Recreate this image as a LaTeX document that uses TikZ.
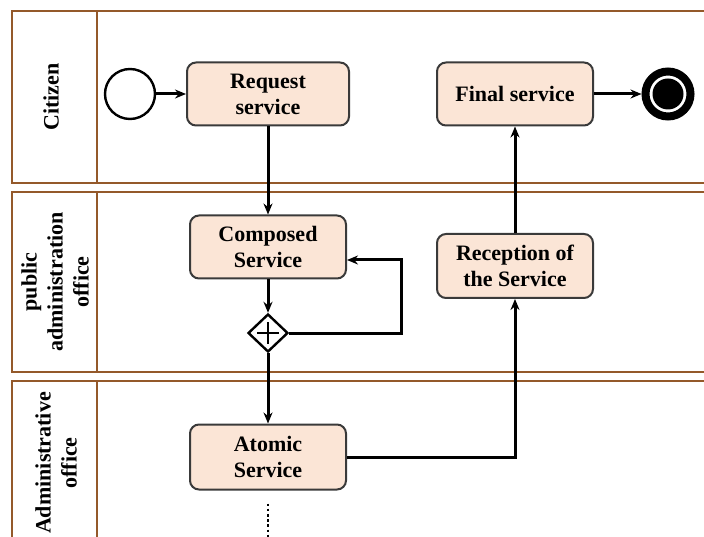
\documentclass[tikz,border=0pt]{standalone}
\usepackage{fontspec}
\setmainfont{Liberation Serif}
\usepackage{tikz}
\usetikzlibrary{arrows.meta, shapes.geometric, positioning}
\definecolor{lanebrown}{HTML}{94592A}
\definecolor{taskfill}{HTML}{FBE5D6}
\definecolor{taskline}{HTML}{3A3A3A}
\tikzset{>={Stealth[length=11pt,width=9pt]}}
\tikzset{
  lane/.style={draw=lanebrown, line width=2.8pt},
  lanelabel/.style={rotate=90, align=center, font=\fontsize{22}{26}\selectfont\bfseries},
  task/.style={draw=taskline, fill=taskfill, line width=2pt, rounded corners=9pt,
    minimum width=156pt, minimum height=63pt, align=center,
    font=\fontsize{22}{26}\selectfont\bfseries},
  flow/.style={->, line width=3pt},
}

\begin{document}
\begin{tikzpicture}[x=1pt,y=-1pt]
	\useasboundingbox (0,0) rectangle (704,537);
	\clip (0,0) rectangle (704,537);
	% swimlanes
	\draw [lane] (12,11) rectangle (740,183) (97,11) -- (97,183);
	\draw [lane] (12,192) rectangle (740,372) (97,192) -- (97,372);
	\draw [lane] (12,381) rectangle (740,546) (97,381) -- (97,546);
	\node [lanelabel] (citizen) at (51,97) {Citizen};
	\node [lanelabel] (puboffice) at (55,282) {public\\administration\\office};
	\node [lanelabel] (admoffice) at (56,463) {Administrative\\office};
	% events and tasks
	\node [circle, draw, line width=2.4pt, minimum size=50pt] (start) at (130,94) {};
	\node [task, minimum width=162pt] (request) at (268,94) {Request\\service};
	\node [task] (final) at (515,94) {Final service};
	\node [circle, draw, line width=8pt, minimum size=45pt, inner sep=0pt] (stop) at (668,94) {};
	\fill (stop.center) circle (15.5pt);
	\node [task] (composed) at (268,247) {Composed\\Service};
	\node [diamond, draw, line width=2.4pt, fill=white, minimum width=40pt, minimum height=38pt, inner sep=0pt] (gate) at (268,333) {};
	\draw [line width=2.4pt] ([yshift=11pt]gate.center) -- ([yshift=-11pt]gate.center)
		([xshift=-11pt]gate.center) -- ([xshift=11pt]gate.center);
	\node [task, minimum height=64pt] (reception) at (515,266) {Reception of\\the Service};
	\node [task, minimum height=65pt] (atomic) at (268,457) {Atomic\\Service};
	% flows
	\draw [flow] (start) -- (request);
	\draw [flow] (request) -- (composed);
	\draw [flow] (composed) -- (gate);
	\draw [flow] (gate) -- (atomic);
	\coordinate (loop) at (401,260);
	\draw [flow] (gate.east) -| (loop) -- (composed.east |- loop);
	\draw [flow] (atomic.east) -| (reception.south);
	\draw [flow] (reception) -- (final);
	\draw [flow] (final) -- (stop);
	\draw [line width=2.6pt, dash pattern=on 2.6pt off 2.6pt] ([yshift=-13pt]atomic.south) -- ++(0,40);
\end{tikzpicture}
\end{document}
